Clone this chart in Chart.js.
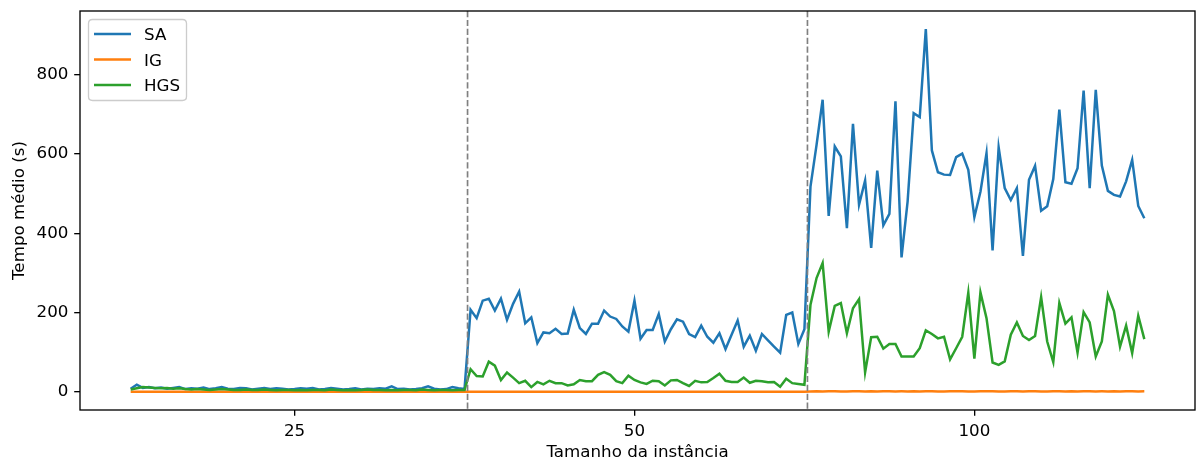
<!DOCTYPE html>
<html><head><meta charset="utf-8">
<script src="https://cdn.jsdelivr.net/npm/chart.js@4/dist/chart.umd.min.js"></script>
<style>html,body{margin:0;padding:0;background:#fff;} canvas{display:block;}</style>
</head><body>
<canvas id="c" width="1196" height="463"></canvas>
<script>
// ---- data ----
const groupLabels = ["25", "50", "100"];
const seriesNames = ["SA", "IG", "HGS"];
const yTickValues = [0, 200, 400, 600, 800];
const xTitle = "Tamanho da instância";
const yTitle = "Tempo médio (s)";

const saSmall = [
  8, 18, 10, 12, 9, 11, 8, 10,
  12, 7, 9, 8, 11, 7, 9, 12,
  8, 7, 10, 9, 6, 8, 10, 7,
  9, 8, 6, 7, 9, 8, 10, 6,
  7, 10, 8, 6, 7, 9, 6, 8,
  7, 9, 8, 14, 7, 8, 6, 7,
  9, 14, 8, 6, 7, 12, 9, 7
];
const saMedium = [
  207, 186, 230, 235, 205, 235, 182, 222,
  253, 173, 188, 123, 150, 148, 159, 146,
  147, 207, 161, 146, 172, 172, 205, 190,
  184, 165, 152, 230, 134, 156, 156, 196,
  127, 158, 183, 177, 146, 138, 167, 139,
  124, 148, 108, 144, 180, 114, 142, 104,
  146, 130, 114, 99, 194, 200, 121, 158
];
const saLarge = [
  518, 623, 737, 444, 619, 594, 413, 676,
  472, 533, 363, 558, 420, 449, 733, 339,
  480, 703, 693, 915, 609, 554, 548, 547,
  592, 601, 560, 441, 505, 602, 357, 617,
  514, 484, 514, 343, 535, 570, 457, 468,
  537, 712, 529, 525, 564, 760, 514, 762,
  571, 507, 497, 493, 531, 585, 469, 438
];
const igSmall = [
  0.1, 0.1, 0.2, 0.1, 0.1, 0.2, 0.1, 0.1,
  0.1, 0.2, 0.1, 0.1, 0.2, 0.1, 0.1, 0.1,
  0.2, 0.1, 0.1, 0.1, 0.2, 0.1, 0.1, 0.1,
  0.2, 0.1, 0.1, 0.1, 0.1, 0.2, 0.1, 0.1,
  0.1, 0.2, 0.1, 0.1, 0.1, 0.2, 0.1, 0.1,
  0.1, 0.1, 0.2, 0.1, 0.1, 0.1, 0.2, 0.1,
  0.1, 0.1, 0.2, 0.1, 0.1, 0.1, 0.2, 0.1
];
const igMedium = [
  0.4, 0.5, 0.4, 0.5, 0.6, 0.4, 0.5, 0.5,
  0.4, 0.6, 0.5, 0.4, 0.5, 0.5, 0.6, 0.4,
  0.5, 0.5, 0.4, 0.6, 0.5, 0.5, 0.4, 0.5,
  0.6, 0.4, 0.5, 0.5, 0.4, 0.6, 0.5, 0.5,
  0.4, 0.5, 0.6, 0.4, 0.5, 0.5, 0.4, 0.6,
  0.5, 0.5, 0.4, 0.5, 0.6, 0.4, 0.5, 0.5,
  0.4, 0.6, 0.5, 0.5, 0.4, 0.5, 0.6, 0.4
];
const igLarge = [
  1.2, 1.4, 1.1, 1.3, 1.5, 1.2, 1.1, 1.4,
  1.3, 1.2, 1.5, 1.1, 1.3, 1.4, 1.2, 1.3,
  1.1, 1.5, 1.2, 1.4, 1.3, 1.1, 1.2, 1.5,
  1.4, 1.3, 1.2, 1.1, 1.4, 1.3, 1.5, 1.2,
  1.1, 1.3, 1.4, 1.2, 1.5, 1.3, 1.1, 1.2,
  1.4, 1.3, 1.2, 1.5, 1.1, 1.4, 1.3, 1.2,
  1.3, 1.1, 1.4, 1.2, 1.5, 1.3, 1.2, 1.4
];
const hgsSmall = [
  6, 9, 12, 11, 10, 9, 10, 8,
  9, 7, 6, 7, 6, 5, 6, 7,
  6, 5, 5, 6, 5, 5, 6, 5,
  4, 5, 5, 4, 5, 4, 5, 5,
  4, 6, 5, 4, 5, 4, 5, 6,
  5, 5, 4, 5, 4, 5, 5, 4,
  6, 5, 4, 5, 5, 4, 5, 5
];
const hgsMedium = [
  57, 40, 39, 76, 66, 30, 49, 36,
  22, 28, 12, 25, 19, 28, 22, 22,
  16, 19, 30, 27, 27, 43, 50, 43,
  27, 22, 41, 30, 24, 20, 28, 27,
  16, 29, 30, 22, 15, 28, 24, 25,
  35, 46, 28, 25, 25, 36, 23, 28,
  27, 24, 25, 13, 33, 22, 20, 18
];
const hgsLarge = [
  220, 287, 325, 152, 217, 224, 148, 211,
  234, 49, 138, 139, 109, 121, 121, 89,
  89, 89, 110, 155, 146, 135, 139, 82,
  110, 139, 250, 84, 251, 186, 74, 68,
  77, 144, 175, 141, 131, 141, 239, 127,
  75, 224, 172, 188, 99, 201, 175, 89,
  127, 245, 204, 114, 167, 98, 192, 133
];

// ---- derived ----
const sa = saSmall.concat(saMedium, saLarge);
const ig = igSmall.concat(igMedium, igLarge);
const hgs = hgsSmall.concat(hgsMedium, hgsLarge);
const perGroup = saSmall.length;
const n = sa.length;
const tickPositions = groupLabels.map((_, g) => g * perGroup + Math.floor((perGroup - 1) / 2));
const separators = groupLabels.slice(1).map((_, g) => (g + 1) * perGroup - 0.5);
const span = n - 1;
const xMin = -0.05 * span, xMax = span * 1.05;
const allVals = sa.concat(ig, hgs);
const dMax = Math.max(...allVals), dMin = Math.min(0, ...allVals);
const yMin = dMin - 0.05 * (dMax - dMin), yMax = dMax + 0.05 * (dMax - dMin);

const FONT = "'DejaVu Sans', sans-serif";
const FS = 16.7;
const colors = ["#1f77b4", "#ff7f0e", "#2ca02c"];
const seriesData = [sa, ig, hgs];
const pts = arr => arr.map((v, i) => ({ x: i, y: v }));

const decorPlugin = {
  id: 'decor',
  afterDatasetsDraw(chart) {
    const { ctx, chartArea: a, scales } = chart;
    ctx.save();
    ctx.strokeStyle = '#808080';
    ctx.lineWidth = 1.67;
    ctx.setLineDash([6.2, 2.7]);
    separators.forEach(s => {
      const x = scales.x.getPixelForValue(s);
      ctx.beginPath(); ctx.moveTo(x, a.top); ctx.lineTo(x, a.bottom); ctx.stroke();
    });
    ctx.restore();
  },
  afterDraw(chart) {
    const { ctx, chartArea: a } = chart;
    ctx.save();
    // frame
    ctx.strokeStyle = '#000';
    ctx.lineWidth = 1.33;
    ctx.strokeRect(a.left, a.top, a.right - a.left, a.bottom - a.top);
    // legend
    const bx = 88.5, by = 19.5, bw = 98, bh = 81, r = 4;
    ctx.beginPath();
    ctx.moveTo(bx + r, by);
    ctx.lineTo(bx + bw - r, by); ctx.quadraticCurveTo(bx + bw, by, bx + bw, by + r);
    ctx.lineTo(bx + bw, by + bh - r); ctx.quadraticCurveTo(bx + bw, by + bh, bx + bw - r, by + bh);
    ctx.lineTo(bx + r, by + bh); ctx.quadraticCurveTo(bx, by + bh, bx, by + bh - r);
    ctx.lineTo(bx, by + r); ctx.quadraticCurveTo(bx, by, bx + r, by);
    ctx.closePath();
    ctx.fillStyle = 'rgba(255,255,255,0.8)';
    ctx.fill();
    ctx.strokeStyle = '#cccccc';
    ctx.lineWidth = 1.33;
    ctx.stroke();
    ctx.font = FS + 'px ' + FONT;
    ctx.textBaseline = 'alphabetic';
    ctx.textAlign = 'left';
    seriesNames.forEach((name, i) => {
      const ly = 34 + i * 25.5;
      ctx.strokeStyle = colors[i];
      ctx.lineWidth = 2.5;
      ctx.beginPath(); ctx.moveTo(94, ly); ctx.lineTo(131, ly); ctx.stroke();
      ctx.fillStyle = '#000';
      ctx.fillText(name, 144, ly + 0.3645 * FS);
    });
    ctx.restore();
  }
};

new Chart(document.getElementById('c'), {
  type: 'line',
  data: {
    datasets: seriesNames.map((name, i) => ({
      label: name,
      data: pts(seriesData[i]),
      borderColor: colors[i],
      backgroundColor: colors[i],
      borderWidth: 2.5,
      pointRadius: 0,
      tension: 0,
      fill: false,
      order: seriesNames.length - i
    }))
  },
  options: {
    responsive: false,
    animation: false,
    devicePixelRatio: 1,
    layout: { padding: { top: 11, right: 1, left: 0, bottom: 0 } },
    plugins: { legend: { display: false }, tooltip: { enabled: false } },
    scales: {
      x: {
        type: 'linear', min: xMin, max: xMax,
        afterBuildTicks: s => { s.ticks = tickPositions.map(v => ({ value: v })); },
        ticks: {
          callback: v => { const i = tickPositions.indexOf(v); return i >= 0 ? groupLabels[i] : ''; },
          font: { family: FONT, size: FS }, color: '#000', padding: 5.8, maxRotation: 0, autoSkip: false
        },
        grid: { drawOnChartArea: false, drawTicks: true, tickLength: 5.8, color: '#000', lineWidth: 1.33 },
        border: { display: false },
        title: { display: true, text: xTitle, font: { family: FONT, size: FS }, color: '#000', padding: { top: 0, bottom: 0 } },
        afterFit: s => { s.height = 53; s.paddingLeft = 0; s.paddingRight = 0; }
      },
      y: {
        type: 'linear', min: yMin, max: yMax,
        afterBuildTicks: s => { s.ticks = yTickValues.map(v => ({ value: v })); },
        ticks: {
          callback: v => String(v),
          font: { family: FONT, size: FS }, color: '#000', padding: 5.8
        },
        grid: { drawOnChartArea: false, drawTicks: true, tickLength: 5.8, color: '#000', lineWidth: 1.33 },
        border: { display: false },
        title: { display: true, text: yTitle, font: { family: FONT, size: FS }, color: '#000', padding: { top: 10, bottom: 0 } },
        afterFit: s => { s.width = 80; s.paddingTop = 0; s.paddingBottom = 0; }
      }
    }
  },
  plugins: [decorPlugin]
});
</script>
</body></html>
